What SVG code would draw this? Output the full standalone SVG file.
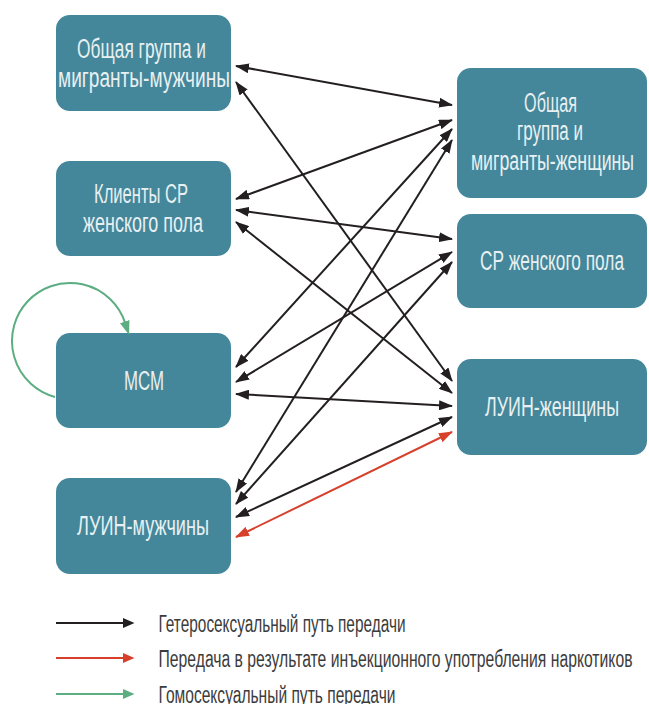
<svg xmlns="http://www.w3.org/2000/svg" width="649" height="704" viewBox="0 0 649 704">
<style>
.box{fill:#44879a;}
.nt{font-family:"Liberation Sans Narrow","Liberation Sans",Arial,sans-serif;font-size:28px;fill:#e8f0f2;text-anchor:middle;}
.lt{font-family:"Liberation Sans Narrow","Liberation Sans",Arial,sans-serif;font-size:23px;fill:#3c3c3c;}
.k{stroke:#231f20;stroke-width:2;fill:none;marker-start:url(#ak);marker-end:url(#ak);}
.r{stroke:#d7402b;stroke-width:2;fill:none;marker-start:url(#ar);marker-end:url(#ar);}
</style>
<defs>
<marker id="ak" viewBox="0 0 14 10" refX="13" refY="5" markerWidth="14" markerHeight="10" markerUnits="userSpaceOnUse" orient="auto-start-reverse"><path d="M0,0 L14,5 L0,10 z" fill="#231f20"/></marker>
<marker id="ar" viewBox="0 0 14 10" refX="13" refY="5" markerWidth="14" markerHeight="10" markerUnits="userSpaceOnUse" orient="auto-start-reverse"><path d="M0,0 L14,5 L0,10 z" fill="#d7402b"/></marker>
<marker id="ag" viewBox="0 0 14 10" refX="1" refY="5" markerWidth="14" markerHeight="10" markerUnits="userSpaceOnUse" orient="auto"><path d="M0,0 L14,5 L0,10 z" fill="#5cae82"/></marker>
</defs>

<g id="n-men">
<rect class="box" x="56" y="15" width="175" height="96" rx="14"/>
<text class="nt" transform="translate(141.5,58) scale(0.8,1)" textLength="161" lengthAdjust="spacingAndGlyphs">Общая группа и</text>
<text class="nt" transform="translate(144,87) scale(0.8,1)" textLength="215" lengthAdjust="spacingAndGlyphs">мигранты-мужчины</text>
</g>
<g id="n-clients">
<rect class="box" x="56" y="161" width="175" height="95" rx="14"/>
<text class="nt" transform="translate(141,203) scale(0.8,1)" textLength="117.5" lengthAdjust="spacingAndGlyphs">Клиенты СР</text>
<text class="nt" transform="translate(143,232) scale(0.8,1)" textLength="150" lengthAdjust="spacingAndGlyphs">женского пола</text>
</g>
<g id="n-msm">
<rect class="box" x="56" y="333" width="175" height="95" rx="14"/>
<text class="nt" transform="translate(144,390) scale(0.8,1)" textLength="50" lengthAdjust="spacingAndGlyphs">МСМ</text>
</g>
<g id="n-pwid-men">
<rect class="box" x="56" y="478" width="175" height="96" rx="14"/>
<text class="nt" transform="translate(143,535) scale(0.8,1)" textLength="165" lengthAdjust="spacingAndGlyphs">ЛУИН-мужчины</text>
</g>
<g id="n-women">
<rect class="box" x="457" y="68" width="190" height="130" rx="14"/>
<text class="nt" transform="translate(550.5,112) scale(0.8,1)" textLength="66" lengthAdjust="spacingAndGlyphs">Общая</text>
<text class="nt" transform="translate(550,140) scale(0.8,1)" textLength="82.5" lengthAdjust="spacingAndGlyphs">группа и</text>
<text class="nt" transform="translate(552.5,170) scale(0.8,1)" textLength="204" lengthAdjust="spacingAndGlyphs">мигранты-женщины</text>
</g>
<g id="n-sw">
<rect class="box" x="457" y="214" width="190" height="94" rx="14"/>
<text class="nt" transform="translate(552,270) scale(0.8,1)" textLength="180" lengthAdjust="spacingAndGlyphs">СР женского пола</text>
</g>
<g id="n-pwid-women">
<rect class="box" x="457" y="359" width="190" height="96" rx="14"/>
<text class="nt" transform="translate(552,416) scale(0.8,1)" textLength="167.5" lengthAdjust="spacingAndGlyphs">ЛУИН-женщины</text>
</g>

<g id="connectors">
<line class="k" x1="236" y1="66" x2="452" y2="105"/>
<line class="k" x1="236" y1="82" x2="452" y2="381"/>
<line class="k" x1="236" y1="199" x2="452" y2="120"/>
<line class="k" x1="236" y1="210" x2="452" y2="239"/>
<line class="k" x1="236" y1="222" x2="452" y2="393"/>
<line class="k" x1="236" y1="367" x2="452" y2="129"/>
<line class="k" x1="236" y1="382" x2="452" y2="252"/>
<line class="k" x1="236" y1="394" x2="452" y2="406"/>
<line class="k" x1="236" y1="492" x2="452" y2="140"/>
<line class="k" x1="236" y1="504" x2="452" y2="262"/>
<line class="k" x1="236" y1="517" x2="452" y2="417"/>
<line class="r" x1="236" y1="537" x2="452" y2="432"/>
<path d="M55,397 A58,58 0 1 1 125,322.6" fill="none" stroke="#5cae82" stroke-width="2" marker-end="url(#ag)"/>
</g>

<g id="legend">
<line x1="56" y1="623" x2="126" y2="623" stroke="#231f20" stroke-width="2"/>
<path d="M123,618 L134.5,623 L123,628 z" fill="#231f20"/>
<text class="lt" x="158.5" y="632" textLength="247" lengthAdjust="spacingAndGlyphs">Гетеросексуальный путь передачи</text>
<line x1="56" y1="658" x2="126" y2="658" stroke="#d7402b" stroke-width="2"/>
<path d="M123,653 L134.5,658 L123,663 z" fill="#d7402b"/>
<text class="lt" x="158.5" y="667" textLength="474" lengthAdjust="spacingAndGlyphs">Передача в результате инъекционного употребления наркотиков</text>
<line x1="56" y1="694" x2="126" y2="694" stroke="#5cae82" stroke-width="2"/>
<path d="M123,689 L134.5,694 L123,699 z" fill="#5cae82"/>
<text class="lt" x="158.5" y="703" textLength="237" lengthAdjust="spacingAndGlyphs">Гомосексуальный путь передачи</text>
</g>
</svg>
